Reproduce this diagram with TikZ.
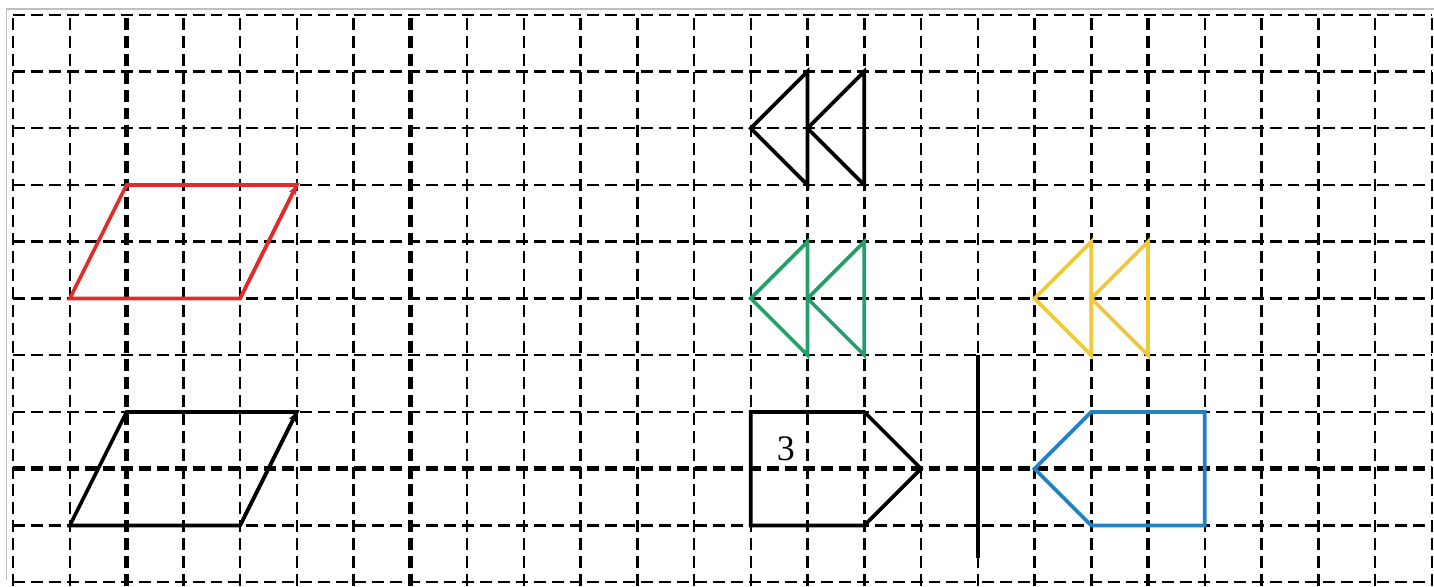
\documentclass[tikz,border=0pt]{standalone}
\usepackage{fontspec}
\setmainfont{Liberation Serif}
\usepackage{tikz}
\usetikzlibrary{arrows.meta}
\definecolor{myred}{RGB}{228,42,42}
\definecolor{mygreen}{RGB}{35,160,105}
\definecolor{myyellow}{RGB}{240,200,60}
\definecolor{myblue}{RGB}{35,130,195}

\begin{document}
\begin{tikzpicture}[
	gridline/.style={black,line width=1.25pt,dash pattern=on 6pt off 3pt},
	axisline/.style={black,line width=2.4pt,dash pattern=on 6pt off 3pt},
	shapeline/.style={line width=1.8pt,line join=miter},
	tipline/.style={-{Stealth[length=5pt,width=4pt]}},
	]
	\useasboundingbox (-0.23,-0.07) rectangle (25.04,10.26);
	
	% the frame
	\draw[black!25,line width=0.6pt] (25.04,10.1) -- (-0.11,10.1) -- (-0.11,0.04);
	
	% the grid
	\foreach \i in {0,1,...,25}
	\draw[gridline] (\i,-0.07) -- (\i,10);
	\foreach \j in {0,1,...,10}
	\draw[gridline] (0,\j) -- (25,\j);
	
	% the thick lines
	\foreach \i in {2,7,20}
	\draw[axisline] (\i,-0.07) -- (\i,10);
	\draw[axisline] (0,2) -- (25,2);
	
	% parallelograms
	\draw[shapeline,myred] (1,5) -- (2,7) -- (5,7) -- (4,5) -- cycle;
	\draw[shapeline,myred,tipline] (4,5) -- (5,7);
	\draw[shapeline] (1,1) -- (2,3) -- (5,3) -- (4,1) -- cycle;
	\draw[shapeline,tipline] (4,1) -- (5,3);
	
	% double triangles
	\foreach \x in {13,14}
	\draw[shapeline] (\x,8) -- (\x+1,9) -- (\x+1,7) -- cycle;
	\foreach \x in {13,14}
	\draw[shapeline,mygreen] (\x,5) -- (\x+1,6) -- (\x+1,4) -- cycle;
	\foreach \x in {18,19}
	\draw[shapeline,myyellow] (\x,5) -- (\x+1,6) -- (\x+1,4) -- cycle;
	
	% pentagons and the mirror line
	\draw[shapeline] (13,3) -- (15,3) -- (16,2) -- (15,1) -- (13,1) -- cycle;
	\node (three) at (13.62,2.36) {\fontsize{18}{20}\selectfont 3};
	\draw[line width=2pt] (17,4) -- (17,0.42);
	\draw[shapeline,myblue] (19,3) -- (21,3) -- (21,1) -- (19,1) -- (18,2) -- cycle;
	
\end{tikzpicture}
\end{document}
